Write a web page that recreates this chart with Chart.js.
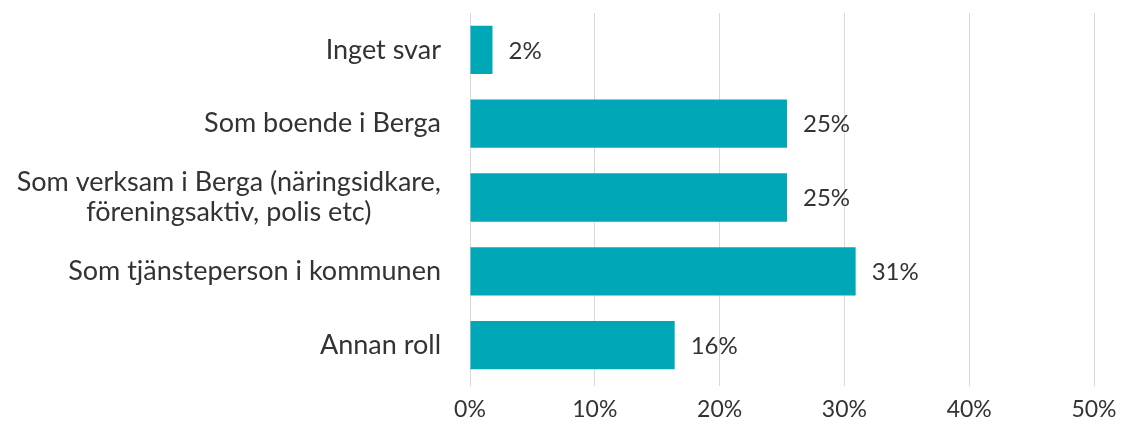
<!DOCTYPE html>
<html>
<head>
<meta charset="utf-8">
<script src="https://cdn.jsdelivr.net/npm/chart.js@4"></script>
<style>
    html, body { margin: 0; padding: 0; background: #fff; }
    #wrap { width: 1122px; height: 429px; }
</style>
</head>
<body>
<div id="wrap"><canvas id="roleChart"></canvas></div>
<script>
// Chart data
const categories = [
    'Inget svar',
    'Som boende i Berga',
    ['Som verksam i Berga (näringsidkare,', 'föreningsaktiv, polis etc)'],
    'Som tjänsteperson i kommunen',
    'Annan roll'
];
const shares = [1.8, 25.4, 25.4, 30.9, 16.4];
const shareLabels = ['2%', '25%', '25%', '31%', '16%'];
const xTicks = [0, 10, 20, 30, 40, 50];

const FONT = 'Lato, "Open Sans", sans-serif';
const TEXT_COLOR = '#333333';
const LABEL_FONT_SIZE = 27;
const LABEL_LINE_HEIGHT = 30;

// Value labels just right of each bar
const barLabels = {
    id: 'barLabels',
    afterDatasetsDraw(chart) {
        const ctx = chart.ctx;
        const meta = chart.getDatasetMeta(0);
        ctx.save();
        ctx.font = '24px ' + FONT;
        ctx.fillStyle = TEXT_COLOR;
        ctx.textAlign = 'left';
        ctx.textBaseline = 'middle';
        meta.data.forEach((bar, i) => {
            ctx.fillText(shareLabels[i], bar.x + 16, bar.y + 1);
        });
        ctx.restore();
    }
};

// Category labels: block right-aligned to the axis, lines centred inside the block
// (Excel style for wrapped labels)
const categoryLabels = {
    id: 'categoryLabels',
    afterDraw(chart) {
        const ctx = chart.ctx;
        const yScale = chart.scales.y;
        const rightEdge = chart.chartArea.left - 29;
        ctx.save();
        ctx.font = LABEL_FONT_SIZE + 'px ' + FONT;
        ctx.fillStyle = TEXT_COLOR;
        ctx.textAlign = 'center';
        ctx.textBaseline = 'middle';
        categories.forEach((label, i) => {
            const lines = Array.isArray(label) ? label : [label];
            const blockWidth = Math.max(...lines.map(l => ctx.measureText(l).width));
            const cx = rightEdge - blockWidth / 2;
            const cy = yScale.getPixelForValue(i);
            const startY = cy - (lines.length - 1) * LABEL_LINE_HEIGHT / 2;
            lines.forEach((line, j) => {
                ctx.fillText(line, cx, startY + j * LABEL_LINE_HEIGHT);
            });
        });
        ctx.restore();
    }
};

const ctx = document.getElementById('roleChart').getContext('2d');
new Chart(ctx, {
    type: 'bar',
    data: {
        labels: categories,
        datasets: [{
            data: shares,
            backgroundColor: '#00a8b7',
            borderWidth: 0,
            barPercentage: 0.655,
            categoryPercentage: 1,
        }],
    },
    options: {
        indexAxis: 'y',
        responsive: true,
        maintainAspectRatio: false,
        animation: false,
        layout: {
            padding: { left: 0, right: 28, top: 13, bottom: 0 },
        },
        plugins: {
            legend: { display: false },
            tooltip: { enabled: false },
        },
        scales: {
            x: {
                min: 0,
                max: 50,
                afterBuildTicks(scale) {
                    scale.ticks = xTicks.map(v => ({ value: v }));
                },
                afterFit(scale) {
                    scale.height = 47;
                    scale.paddingLeft = 0;
                    scale.paddingRight = 0;
                },
                grid: {
                    color: '#d9d9d9',
                    lineWidth: 1,
                    drawTicks: true,
                    tickLength: 4,
                },
                border: { display: false },
                ticks: {
                    padding: 10,
                    color: TEXT_COLOR,
                    font: { family: FONT, size: 23 },
                    callback: v => v + '%',
                },
            },
            y: {
                afterFit(scale) {
                    scale.width = 470;
                    scale.paddingTop = 0;
                    scale.paddingBottom = 0;
                },
                grid: { display: false },
                border: { display: false },
                ticks: { display: false },
            },
        },
    },
    plugins: [barLabels, categoryLabels],
});
</script>
</body>
</html>
